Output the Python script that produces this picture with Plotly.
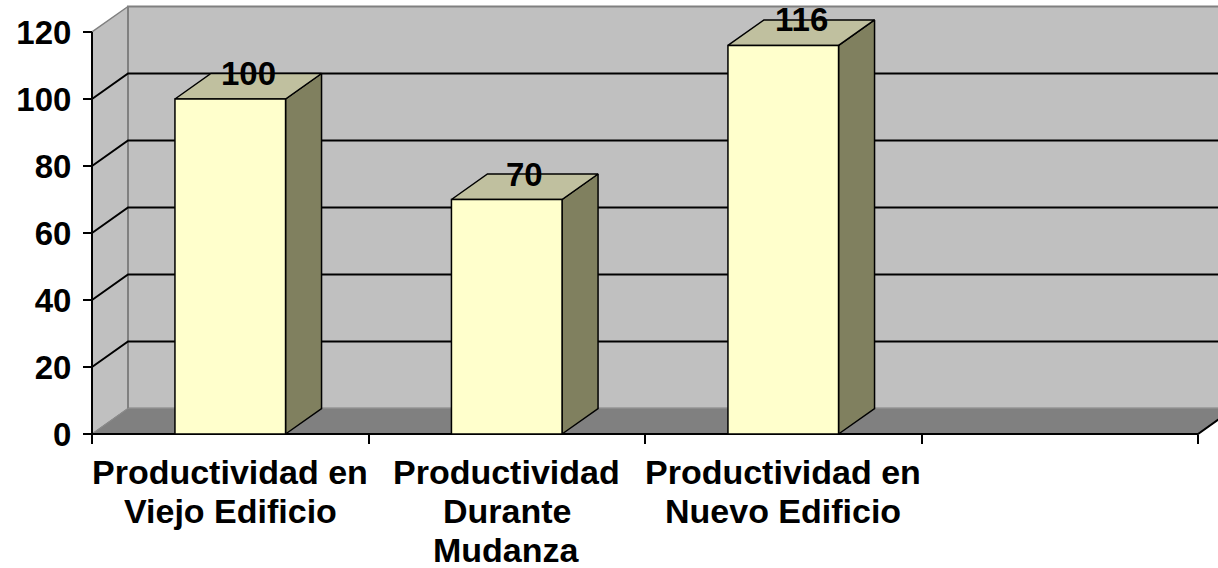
import plotly.graph_objects as go

# ---------------- data ----------------
categories = ["Productividad en<br>Viejo Edificio",
              "Productividad<br>Durante<br>Mudanza",
              "Productividad en<br>Nuevo Edificio"]
values = [100, 70, 116]
value_labels = ["100", "70", "116"]
y_ticks = [0, 20, 40, 60, 80, 100, 120]
n_slots = 4          # category slots on the floor (last one empty)
y_max = 120

# ---------------- geometry ----------------
W, H = 1218, 568
X0, Y0 = 92, 434         # pixel position of the front origin
PX = 276.5               # pixels per category slot
PY = 3.35                # pixels per value unit
DX = 36 / PX             # depth offset (data units)
DY = 25.5 / PY
BW = 0.2                 # half bar width (slot units)

L_PIX, R_PIX, T_PIX, B_PIX = 86, 1218, 3, 440
x_range = [(L_PIX - X0) / PX, (R_PIX - X0) / PX]
y_range = [(Y0 - B_PIX) / PY, (Y0 - T_PIX) / PY]

FONT = "Liberation Sans, Arial, sans-serif"

fig = go.Figure()


def poly(xs, ys, fill, line_color, line_width=1.0, closed=True):
    if closed:
        xs = list(xs) + [xs[0]]
        ys = list(ys) + [ys[0]]
    fig.add_trace(go.Scatter(
        x=xs, y=ys, mode="lines",
        fill="toself" if fill else None,
        fillcolor=fill,
        line=dict(color=line_color, width=line_width),
        hoverinfo="skip", showlegend=False))


# walls and floor
poly([0, 0, DX, DX], [0, y_max, y_max + DY, DY], "#C0C0C0", "#808080", 1.5)
poly([DX, DX, n_slots + DX, n_slots + DX], [DY, y_max + DY, y_max + DY, DY],
     "#C0C0C0", "#808080", 2)
poly([0, n_slots, n_slots + DX, DX], [0, 0, DY, DY], "#808080", "#8C8C8C", 1)

# gridlines
for v in y_ticks[1:-1]:
    poly([0, DX, n_slots + DX], [v, v + DY, v + DY], None, "black", 2, closed=False)

# axis lines
poly([0, 0], [0, y_max], None, "black", 2, closed=False)
poly([0, n_slots, n_slots + DX], [0, 0, DY], None, "black", 2, closed=False)

# bars
for i, v in enumerate(values):
    c = i + 0.5
    poly([c + BW, c + BW + DX, c + BW + DX, c + BW], [0, DY, v + DY, v],
         "#80805F", "black", 1.5)
    poly([c - BW, c + BW, c + BW + DX, c - BW + DX], [v, v, v + DY, v + DY],
         "#C0C09F", "black", 1.5)
    poly([c - BW, c + BW, c + BW, c - BW], [0, 0, v, v], "#FFFFCC", "black", 1.5)

annotations = []
for i, (v, lab) in enumerate(zip(values, value_labels)):
    annotations.append(dict(
        x=i + 0.5 + DX / 2, y=v + DY, xref="x", yref="y", text=lab,
        showarrow=False, xanchor="center", yanchor="middle",
        font=dict(family=FONT, size=33, color="black", weight="bold")))

# category labels, one annotation per line
plot_h = B_PIX - T_PIX
for i, cat in enumerate(categories):
    for k, line in enumerate(cat.split("<br>")):
        cap_center = 472 + 39 * k
        annotations.append(dict(
            x=i + 0.5, y=(B_PIX - cap_center) / plot_h, xref="x", yref="paper",
            text=line, showarrow=False, xanchor="center", yanchor="middle",
            font=dict(family=FONT, size=34, color="black", weight="bold")))

fig.update_layout(
    width=W, height=H,
    margin=dict(l=L_PIX, r=W - R_PIX, t=T_PIX, b=H - B_PIX, pad=0),
    paper_bgcolor="white", plot_bgcolor="white",
    showlegend=False,
    annotations=annotations,
    xaxis=dict(range=x_range, anchor="free",
               position=(B_PIX - Y0) / plot_h,
               tickmode="array", tickvals=list(range(n_slots + 1)),
               showticklabels=False, ticks="outside", ticklen=9,
               tickwidth=2, tickcolor="black",
               showgrid=False, zeroline=False, showline=False, fixedrange=True),
    yaxis=dict(range=y_range, anchor="free",
               position=(X0 - L_PIX) / (R_PIX - L_PIX),
               tickmode="array", tickvals=y_ticks,
               ticktext=[str(t) for t in y_ticks],
               ticks="outside", ticklen=9, tickwidth=2, tickcolor="black",
               ticklabelstandoff=5,
               tickfont=dict(family=FONT, size=33, color="black", weight="bold"),
               showgrid=False, zeroline=False, showline=False, fixedrange=True),
)

fig.write_html("out.html", config={"displayModeBar": False},
               post_script="document.body.style.margin='0px';"
                           "document.body.style.overflow='hidden';")
